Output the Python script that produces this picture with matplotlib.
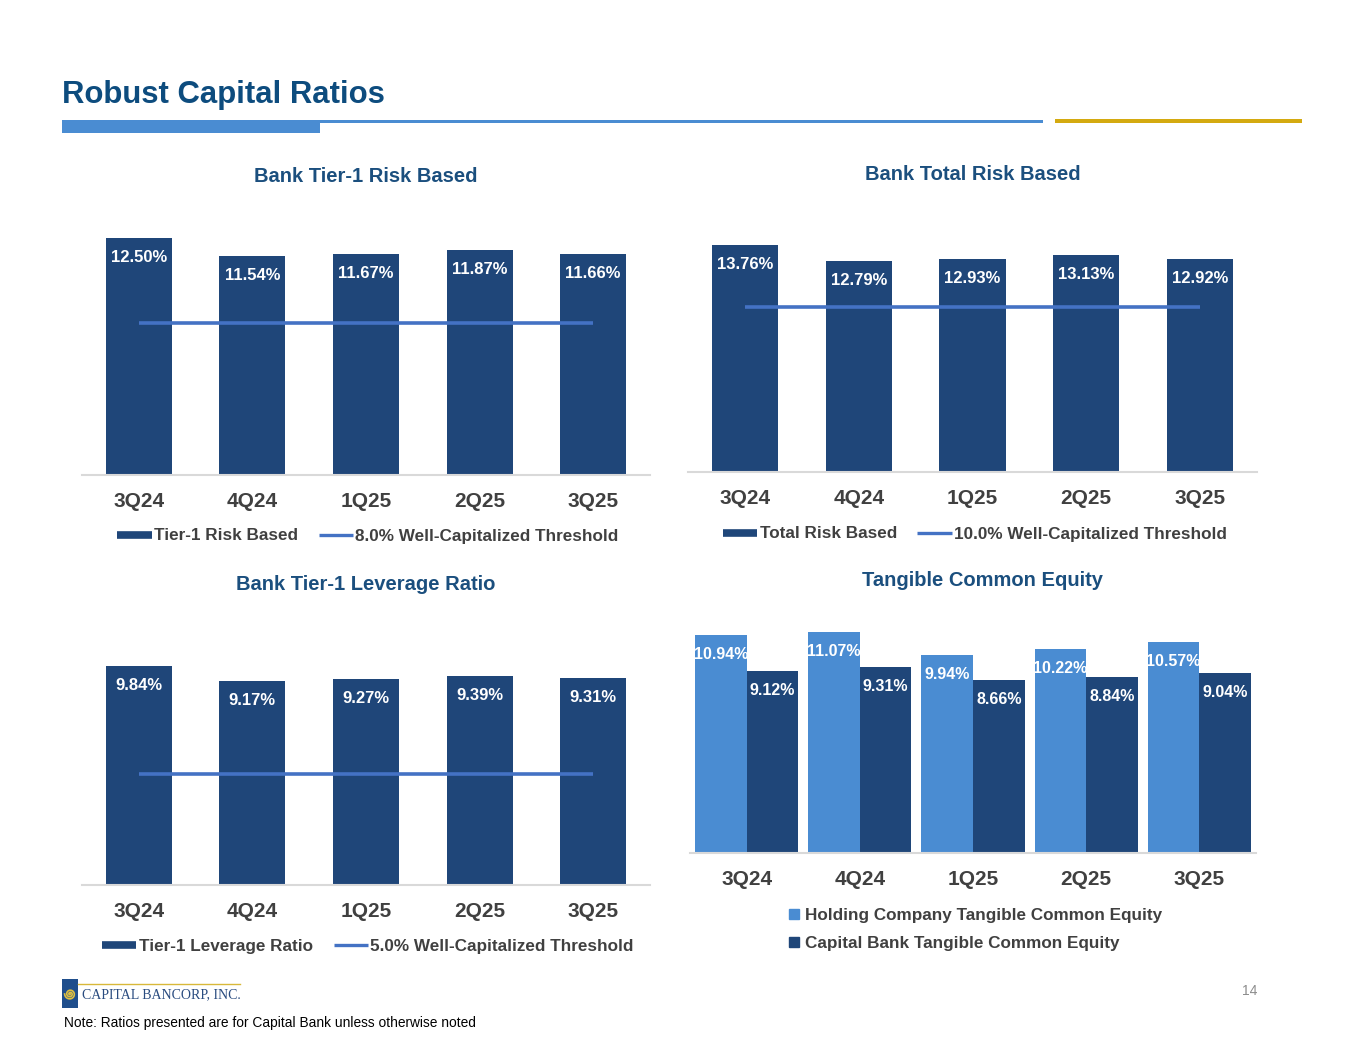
import numpy as np
import matplotlib.pyplot as plt
from matplotlib.lines import Line2D
from matplotlib.patches import Rectangle, Patch

plt.rcParams['font.family'] = ['Liberation Sans', 'DejaVu Sans']

quarters = ['3Q24', '4Q24', '1Q25', '2Q25', '3Q25']
tier1_rb = [12.50, 11.54, 11.67, 11.87, 11.66]
total_rb = [13.76, 12.79, 12.93, 13.13, 12.92]
tier1_lev = [9.84, 9.17, 9.27, 9.39, 9.31]
hc_tce = [10.94, 11.07, 9.94, 10.22, 10.57]
bank_tce = [9.12, 9.31, 8.66, 8.84, 9.04]
thr_tier1 = 8.0
thr_total = 10.0
thr_lev = 5.0

NAVY = '#1F4679'
LIGHT = '#4A8CD2'
THR = '#4472C4'
TITLE = '#1B4F7E'
TXT = '#404040'

W, H = 1365, 1055
fig = plt.figure(figsize=(13.65, 10.55), dpi=100)


def px_axes(x0, x1, base, top):
    return fig.add_axes([x0 / W, 1 - base / H, (x1 - x0) / W, (base - top) / H])


def style(ax, ymax):
    ax.set_xlim(-0.5, 4.5)
    ax.set_ylim(0, ymax)
    for s in ['top', 'right', 'left']:
        ax.spines[s].set_visible(False)
    ax.spines['bottom'].set_color('#D9D9D9')
    ax.spines['bottom'].set_linewidth(1.5)
    ax.set_yticks([])
    ax.set_xticks(range(len(quarters)))
    ax.set_xticklabels(quarters, fontsize=15, fontweight='bold', color=TXT)
    ax.tick_params(axis='x', length=0, pad=12)


def labels(ax, xs, vals, size=12):
    for x, v in zip(xs, vals):
        ax.annotate(f'{v:.2f}%', (x, v), xytext=(0, -14), textcoords='offset points',
                    ha='center', va='center', color='white', fontsize=size, fontweight='bold')


def bar_panel(x0, x1, base, ymax, ppu, vals, thr, title, title_y, name, thr_name, leg_x, leg_y):
    ax = px_axes(x0, x1, base, base - ymax * ppu)
    x = np.arange(len(quarters))
    ax.bar(x, vals, width=0.58, color=NAVY)
    ax.plot(x, [thr] * len(x), color=THR, lw=2.6, solid_capstyle='butt')
    labels(ax, x, vals)
    style(ax, ymax)
    fig.text((x0 + x1) / 2 / W, 1 - title_y / H, title, ha='center', va='center',
             fontsize=14.5, fontweight='bold', color=TITLE)
    handles = [Line2D([], [], color=NAVY, lw=5.5, solid_capstyle='butt'),
               Line2D([], [], color=THR, lw=2.4, solid_capstyle='butt')]
    fig.legend(handles, [name, thr_name], loc='center', bbox_to_anchor=(leg_x / W, 1 - leg_y / H),
               ncol=2, frameon=False, handlelength=2.0, handletextpad=0.15, columnspacing=1.2,
               prop={'size': 12.3, 'weight': 'bold'}, labelcolor=TXT)
    return ax


bar_panel(82, 650, 475, 14, 18.96, tier1_rb, thr_tier1, 'Bank Tier-1 Risk Based', 176,
          'Tier-1 Risk Based', '8.0% Well-Capitalized Threshold', 368, 536)
bar_panel(688, 1257, 472, 16, 16.5, total_rb, thr_total, 'Bank Total Risk Based', 174,
          'Total Risk Based', '10.0% Well-Capitalized Threshold', 975, 534)
bar_panel(82, 650, 885, 12, 22.26, tier1_lev, thr_lev, 'Bank Tier-1 Leverage Ratio', 585,
          'Tier-1 Leverage Ratio', '5.0% Well-Capitalized Threshold', 368, 946)

# Tangible common equity
ax4 = px_axes(690, 1256, 853, 853 - 12 * 19.93)
x = np.arange(len(quarters))
bw = 0.455
ax4.bar(x - bw / 2, hc_tce, width=bw, color=LIGHT)
ax4.bar(x + bw / 2, bank_tce, width=bw, color=NAVY)
labels(ax4, x - bw / 2, hc_tce, size=11.5)
labels(ax4, x + bw / 2, bank_tce, size=11.5)
style(ax4, 12)
fig.text(983 / W, 1 - 580 / H, 'Tangible Common Equity', ha='center', va='center',
         fontsize=14.5, fontweight='bold', color=TITLE)
fig.legend([Patch(color=LIGHT), Patch(color=NAVY)],
           ['Holding Company Tangible Common Equity', 'Capital Bank Tangible Common Equity'],
           loc='upper left', bbox_to_anchor=(774 / W, 1 - 893 / H), frameon=False,
           handlelength=0.55, handleheight=0.55, handletextpad=0.35, labelspacing=0.75,
           prop={'size': 12.3, 'weight': 'bold'}, labelcolor=TXT)

# page decorations
deco = fig.add_axes([0, 0, 1, 1], zorder=-1)
deco.set_xlim(0, W)
deco.set_ylim(H, 0)
deco.axis('off')
fig.text(62 / W, 1 - 95 / H, 'Robust Capital Ratios', ha='left', va='center',
         fontsize=22.4, fontweight='bold', color='#0D4C7E')
deco.add_patch(Rectangle((62, 120), 258, 13, color='#4A8CD2', lw=0))
deco.add_patch(Rectangle((320, 120), 723, 3, color='#4A8CD2', lw=0))
deco.add_patch(Rectangle((1055, 119), 247, 4, color='#D4AA10', lw=0))

# logo
deco.add_patch(Rectangle((62, 979), 16, 29, color='#1F4E8C', lw=0))
deco.plot([78, 240], [983.5, 983.5], color='#D8B83A', lw=1)
t = np.linspace(0, 5 * np.pi, 200)
r = 0.9 * t / (5 * np.pi) * 6
deco.plot(70 + r * np.cos(t), 994 + r * np.sin(t), color='#E0C040', lw=1.2)
fig.text(82 / W, 1 - 995 / H, 'CAPITAL BANCORP, INC.', ha='left', va='center',
         fontsize=10, family='Liberation Serif', color='#2A4C80')
fig.text(64 / W, 1 - 1023 / H, 'Note: Ratios presented are for Capital Bank unless otherwise noted',
         ha='left', va='center', fontsize=9.9, color='black')
fig.text(1257 / W, 1 - 991 / H, '14', ha='right', va='center', fontsize=10, color='#8C8C8C')

fig.savefig('out.png', dpi=100)
